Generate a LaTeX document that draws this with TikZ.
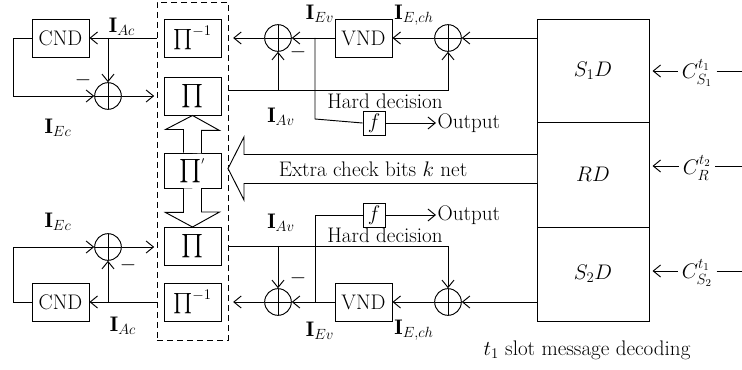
\RequirePackage{fix-cm}
\documentclass[tikz,border=0pt]{standalone}
\usepackage{fontspec}
\usepackage{amsmath}
\usepackage{tikz}
\usetikzlibrary{positioning,arrows.meta,calc}

\tikzset{
  blk/.style={draw,minimum width=1.71cm,minimum height=1.14cm,inner sep=0pt},
  adder/.style={draw,circle,minimum size=0.8cm,inner sep=0pt,
    path picture={\draw (path picture bounding box.north) -- (path picture bounding box.south)
      (path picture bounding box.west) -- (path picture bounding box.east);}},
  fbox/.style={draw,minimum width=0.66cm,minimum height=0.72cm,inner sep=0pt},
  dec/.style={draw,minimum width=3.36cm,outer sep=0pt}
}
\newcommand{\bigprod}{\scalebox{1.15}{$\prod$}}

\begin{document}
\begin{tikzpicture}[x=0.03cm,y=-0.03cm,>={Straight Barb[length=2.2mm,width=3.6mm]},
   line width=0.8pt,every node/.style={font=\fontsize{18}{21}\selectfont}]
  \useasboundingbox (0,0) rectangle (742,370);
  \node[draw,dash pattern=on 1.8mm off 1.2mm,minimum width=2.13cm,minimum height=10.14cm] (ilv) at (192.5,171) {};
  \node[blk] (pinv1) at (192.5,38) {$\prod^{-1}$};
  \node[blk] (pi1) at (192.5,96) {\bigprod};
  \node[blk,minimum height=1.05cm] (pip) at (192.5,170.5) {\bigprod$^{'}$};
  \node[blk] (pi2) at (192.5,246.5) {\bigprod};
  \node[blk] (pinv2) at (192.5,302) {$\prod^{-1}$};
  \node[blk] (cnd1) at (60.5,38) {CND};
  \node[blk] (cnd2) at (60.5,302) {CND};
  \node[adder] (add1) at (108,96) {};
  \node[adder] (add2) at (108,247) {};
  \node[adder] (add3) at (278,38) {};
  \node[adder] (add4) at (278,302) {};
  \node[blk] (vnd1) at (363.5,38) {VND};
  \node[blk] (vnd2) at (363.5,302) {VND};
  \node[adder] (add5) at (448,38) {};
  \node[adder] (add6) at (448,302) {};
  \node[dec,minimum height=3.09cm] (s1d) at (593,70.5) {$S_1D$};
  \node[dec,minimum height=3.15cm,below=0pt of s1d] (rd) {$RD$};
  \node[dec,minimum height=2.82cm,below=0pt of rd] (s2d) {$S_2D$};
  \node (c1) at (697,73) {$C_{S_1}^{t_1}$};
  \node (c2) at (697,168) {$C_{R}^{t_2}$};
  \node (c3) at (697,273) {$C_{S_2}^{t_1}$};
  \coordinate (e1) at (742,71);
  \coordinate (e2) at (742,166);
  \coordinate (e3) at (742,271);
  \coordinate (j1) at (448,90);
  \coordinate (j2) at (448,246);
  \coordinate (t1) at (315,38);
  \coordinate (t2) at (315,302);
  \node[fbox] (f1) at (374,123) {$f$};
  \node[fbox] (f2) at (374,215) {$f$};
  \node[anchor=west,inner sep=1pt] (out1) at (436,123) {Output};
  \node[anchor=west,inner sep=1pt] (out2) at (436,215) {Output};
  \node (hd1) at (385,101) {Hard decision};
  \node (hd2) at (385,235) {Hard decision};

  \draw[->] (ilv.west |- pinv1) -- (cnd1);
  \draw[->] (cnd1.west) -- ++(-18,0) |- (add1);
  \draw[->] (add1 |- cnd1) -- (add1);
  \draw[->,shorten >=2pt] (add1) -- (ilv.west |- add1);
  \draw[->] (ilv.west |- pinv2) -- (cnd2);
  \draw[->] (cnd2.west) -- ++(-18,0) |- (add2);
  \draw[->] (add2 |- cnd2) -- (add2);
  \draw[->,shorten >=2pt] (add2) -- (ilv.west |- add2);

  \draw[->,shorten >=4pt] (add3) -- (ilv.east |- add3);
  \draw[->] (vnd1) -- (add3);
  \draw[->] (add5) -- (vnd1);
  \draw[->] (s1d.west |- add5) -- (add5);
  \draw[->] (ilv.east |- j1) -- (j1) -- (add5);
  \draw[->] (add3 |- j1) -- (add3);
  \draw (t1) -- ++(0,81) -- (f1.west);
  \draw[->] (f1) -- (out1);

  \draw[->,shorten >=4pt] (add4) -- (ilv.east |- add4);
  \draw[->] (vnd2) -- (add4);
  \draw[->] (add6) -- (vnd2);
  \draw[->] (s2d.west |- add6) -- (add6);
  \draw[->] (ilv.east |- j2) -- (j2) -- (add6);
  \draw[->] (add4 |- j2) -- (add4);
  \draw (t2) |- (f2.west);
  \draw[->] (f2) -- (out2);

  \draw[->,shorten >=3pt] (c1.west |- e1) -- (s1d.east |- e1);
  \draw[->,shorten >=3pt] (c2.west |- e2) -- (rd.east |- e2);
  \draw[->,shorten >=3pt] (c3.west |- e3) -- (s2d.east |- e3);
  \draw (c1.east |- e1) -- (e1);
  \draw (c2.east |- e2) -- (e2);
  \draw (c3.east |- e3) -- (e3);

  \draw[fill=white] (rd.west |- 0,154.5) -- (244,154.5) -- (244,137) -- (228,168.5)
    -- (244,200) -- (244,183.5) -- (rd.west |- 0,183.5);
  \node (xc) at (373,169) {Extra check bits $k$ net};
  \draw[fill=white] (pip.north) ++(-9,0) -- ++(0,-23) -- ++(-18,0) -- (pi1.south)
    -- ++(27,15) -- ++(-18,0) -- ++(0,23);
  \draw[fill=white] (pip.south) ++(-9,0) -- ++(0,24) -- ++(-18,0) -- (pi2.north)
    -- ++(27,-15) -- ++(-18,0) -- ++(0,-24);

  \node (iac1) at (122,27) {$\mathbf{I}_{Ac}$};
  \node (iec1) at (58,128) {$\mathbf{I}_{Ec}$};
  \node (m1) at (83,80) {$-$};
  \node (iev1) at (320,14) {$\mathbf{I}_{Ev}$};
  \node (iech1) at (414,15) {$\mathbf{I}_{E,ch}$};
  \node (iav1) at (281,117) {$\mathbf{I}_{Av}$};
  \node (m3) at (298,52) {$-$};
  \node (iec2) at (58,222) {$\mathbf{I}_{Ec}$};
  \node (iac2) at (123,326) {$\mathbf{I}_{Ac}$};
  \node (m2) at (128,265) {$-$};
  \node (iav2) at (281,223) {$\mathbf{I}_{Av}$};
  \node (m4) at (298,278) {$-$};
  \node (iev2) at (320,331) {$\mathbf{I}_{Ev}$};
  \node (iech2) at (414,330) {$\mathbf{I}_{E,ch}$};
  \node (cap) at (587,350) {$t_1$ slot message decoding};
\end{tikzpicture}
\end{document}
